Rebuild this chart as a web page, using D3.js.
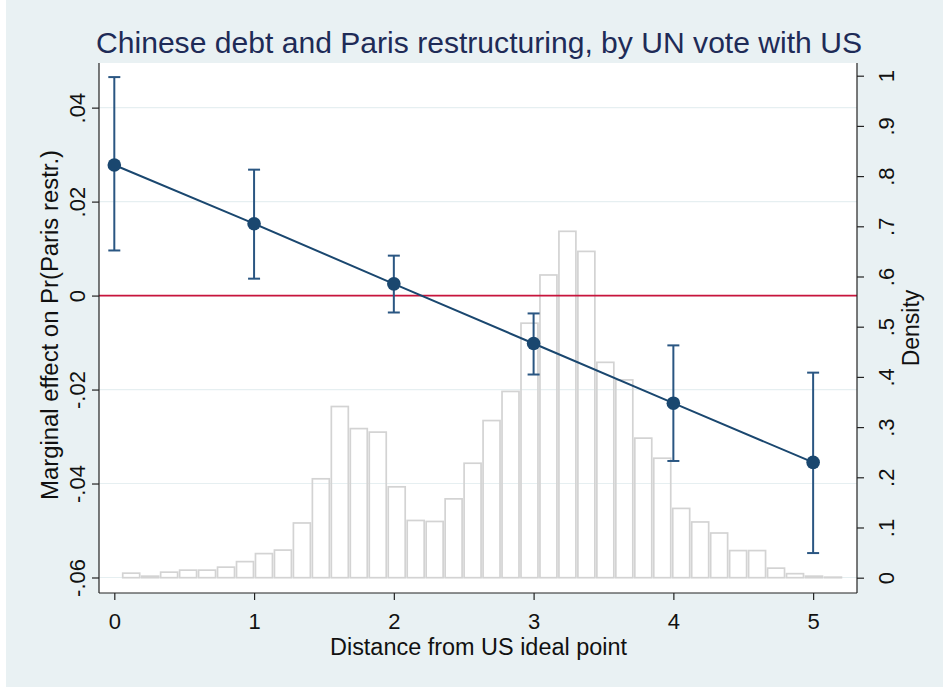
<!DOCTYPE html>
<html>
<head>
<meta charset="utf-8">
<script src="https://cdnjs.cloudflare.com/ajax/libs/d3/7.8.5/d3.min.js"></script>
<style>
  html, body { margin: 0; padding: 0; background: #ffffff; }
  svg { display: block; }
  text { font-family: "Liberation Sans", Arial, Helvetica, sans-serif; }
</style>
</head>
<body>
<svg id="chart" width="943" height="687"></svg>
<script>
// Marginal effect estimates at each distance value, with 95% confidence bounds
const distance = [0, 1, 2, 3, 4, 5];
const effect   = [0.0278, 0.0153, 0.0025, -0.0102, -0.0229, -0.0355];
const ciLow    = [0.0096, 0.0036, -0.0036, -0.0168, -0.0352, -0.0548];
const ciHigh   = [0.0465, 0.0268, 0.0085, -0.0038, -0.0106, -0.0164];

// Histogram of the distance variable (density per bin)
const binStart = 0.053;
const binWidth = 0.1357;
const density = [
  0.009, 0.003, 0.011, 0.015, 0.015, 0.021, 0.032, 0.048, 0.055, 0.109,
  0.197, 0.341, 0.297, 0.290, 0.181, 0.114, 0.112, 0.157, 0.228, 0.313,
  0.371, 0.507, 0.603, 0.690, 0.650, 0.429, 0.394, 0.278, 0.238, 0.138,
  0.111, 0.089, 0.054, 0.054, 0.019, 0.008, 0.003, 0.001
];

// Axis ticks
const xTicks = [0, 1, 2, 3, 4, 5];
const yTicks = [-0.06, -0.04, -0.02, 0, 0.02, 0.04];
const yTickLabels = ["-.06", "-.04", "-.02", "0", ".02", ".04"];
const dTicks = [0, 0.1, 0.2, 0.3, 0.4, 0.5, 0.6, 0.7, 0.8, 0.9, 1];
const dTickLabels = ["0", ".1", ".2", ".3", ".4", ".5", ".6", ".7", ".8", ".9", "1"];

const titleText = "Chinese debt and Paris restructuring, by UN vote with US";
const xTitle = "Distance from US ideal point";
const yTitle = "Marginal effect on Pr(Paris restr.)";
const dTitle = "Density";

const W = 943, H = 687;
const plot = { left: 99, right: 857, top: 63, bottom: 593 };

const svg = d3.select("#chart");

// Outer graph region
svg.append("rect").attr("x", 0).attr("y", 0).attr("width", W).attr("height", H).attr("fill", "#ffffff");
svg.append("rect").attr("x", 6).attr("y", 0).attr("width", W - 6).attr("height", H).attr("fill", "#e9f1f3");
// Plot region
svg.append("rect")
  .attr("x", plot.left).attr("y", plot.top)
  .attr("width", plot.right - plot.left).attr("height", plot.bottom - plot.top)
  .attr("fill", "#ffffff");

const x = d3.scaleLinear().domain([-0.1095, 5.3139]).range([plot.left, plot.right]);
const y = d3.scaleLinear().domain([-0.0633, 0.0495]).range([plot.bottom, plot.top]);
const yd = d3.scaleLinear().domain([-0.0305, 1.0253]).range([plot.bottom, plot.top]);

// Horizontal grid lines at the left-axis ticks
svg.append("g").selectAll("line").data(yTicks).join("line")
  .attr("x1", plot.left).attr("x2", plot.right)
  .attr("y1", d => y(d)).attr("y2", d => y(d))
  .attr("stroke", "#e6eff1").attr("stroke-width", 1.2);

// Histogram bars (outlined)
svg.append("g").selectAll("rect").data(density).join("rect")
  .attr("x", (d, i) => x(binStart + i * binWidth) + 1)
  .attr("width", (d, i) => x(binStart + (i + 1) * binWidth) - x(binStart + i * binWidth) - 2)
  .attr("y", d => yd(d))
  .attr("height", d => yd(0) - yd(d))
  .attr("fill", "none")
  .attr("stroke", "#d3d3d3")
  .attr("stroke-width", 1.7);

// Reference line at zero
svg.append("line")
  .attr("x1", plot.left).attr("x2", plot.right)
  .attr("y1", y(0)).attr("y2", y(0))
  .attr("stroke", "#c8143c").attr("stroke-width", 1.6);

// Confidence intervals with caps
const ci = svg.append("g").attr("stroke", "#2a5682").attr("stroke-width", 2).attr("fill", "none");
distance.forEach((d, i) => {
  const cx = x(d);
  ci.append("line").attr("x1", cx).attr("x2", cx).attr("y1", y(ciLow[i])).attr("y2", y(ciHigh[i]));
  ci.append("line").attr("x1", cx - 6).attr("x2", cx + 6).attr("y1", y(ciLow[i])).attr("y2", y(ciLow[i]));
  ci.append("line").attr("x1", cx - 6).attr("x2", cx + 6).attr("y1", y(ciHigh[i])).attr("y2", y(ciHigh[i]));
});

// Connected point estimates
svg.append("path")
  .datum(distance.map((d, i) => [d, effect[i]]))
  .attr("d", d3.line().x(d => x(d[0])).y(d => y(d[1])))
  .attr("fill", "none").attr("stroke", "#1a476f").attr("stroke-width", 2);
svg.append("g").selectAll("circle").data(distance).join("circle")
  .attr("cx", d => x(d)).attr("cy", (d, i) => y(effect[i]))
  .attr("r", 6.8).attr("fill", "#1a476f");

// Axes
const axisColor = "#222222";
const tickFont = 22;

// Bottom axis
const gx = svg.append("g").attr("transform", `translate(0,${plot.bottom})`)
  .call(d3.axisBottom(x).tickValues(xTicks).tickSize(7).tickPadding(13).tickSizeOuter(0).tickFormat(d3.format("d")));
gx.select(".domain").attr("d", `M${plot.left},0H${plot.right}`);
gx.selectAll("line, path").attr("stroke", axisColor).attr("stroke-width", 1.2);
gx.selectAll("text").attr("font-size", tickFont).attr("fill", "#111").attr("font-family", null);

// Left axis with rotated labels
const gy = svg.append("g").attr("transform", `translate(${plot.left},0)`)
  .call(d3.axisLeft(y).tickValues(yTicks).tickSize(7).tickSizeOuter(0).tickFormat((d, i) => yTickLabels[i]));
gy.select(".domain").attr("d", `M0,${plot.top}V${plot.bottom}`);
gy.selectAll("line, path").attr("stroke", axisColor).attr("stroke-width", 1.2);
gy.selectAll("text")
  .attr("font-size", tickFont).attr("fill", "#111").attr("font-family", null)
  .attr("x", null).attr("dy", null)
  .attr("text-anchor", "middle")
  .attr("transform", "translate(-14,0) rotate(-90)");

// Right axis (density) with rotated labels
const gd = svg.append("g").attr("transform", `translate(${plot.right},0)`)
  .call(d3.axisRight(yd).tickValues(dTicks).tickSize(7).tickSizeOuter(0).tickFormat((d, i) => dTickLabels[i]));
gd.select(".domain").attr("d", `M0,${plot.top}V${plot.bottom}`);
gd.selectAll("line, path").attr("stroke", axisColor).attr("stroke-width", 1.2);
gd.selectAll("text")
  .attr("font-size", tickFont).attr("fill", "#111").attr("font-family", null)
  .attr("x", null).attr("dy", null)
  .attr("text-anchor", "middle")
  .attr("transform", "translate(37,0) rotate(-90)");

// Axis titles
svg.append("text")
  .attr("x", 478.5).attr("y", 655)
  .attr("text-anchor", "middle").attr("font-size", 23).attr("fill", "#111")
  .attr("textLength", 297).attr("lengthAdjust", "spacingAndGlyphs")
  .text(xTitle);
svg.append("text")
  .attr("transform", `translate(58,325) rotate(-90)`)
  .attr("text-anchor", "middle").attr("font-size", 23).attr("fill", "#111")
  .attr("textLength", 350).attr("lengthAdjust", "spacingAndGlyphs")
  .text(yTitle);
svg.append("text")
  .attr("transform", `translate(919,${(plot.top + plot.bottom) / 2}) rotate(-90)`)
  .attr("text-anchor", "middle").attr("font-size", 23).attr("fill", "#111")
  .text(dTitle);

// Chart title
svg.append("text")
  .attr("x", 479).attr("y", 53)
  .attr("text-anchor", "middle").attr("font-size", 30).attr("fill", "#1e2b57")
  .attr("textLength", 766).attr("lengthAdjust", "spacingAndGlyphs")
  .text(titleText);
</script>
</body>
</html>
